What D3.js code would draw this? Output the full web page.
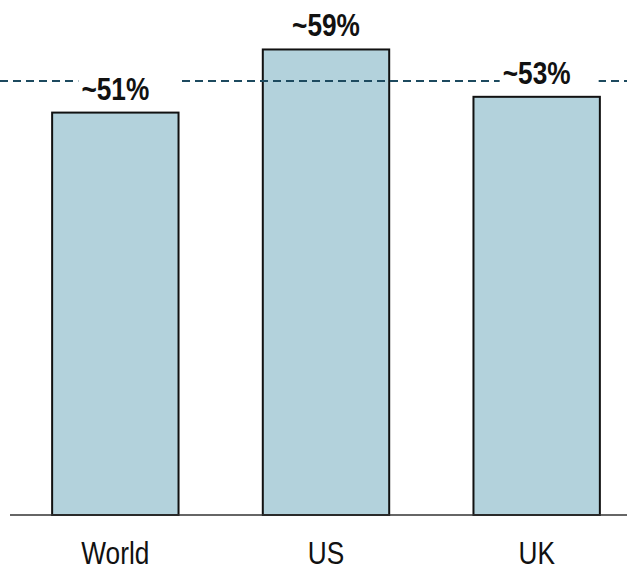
<!DOCTYPE html>
<html>
<head>
<meta charset="utf-8">
<script src="https://cdn.jsdelivr.net/npm/d3@7"></script>
<style>
  html, body { margin: 0; padding: 0; background: #fff; }
  svg { display: block; }
  text { font-family: "Liberation Sans", Arial, sans-serif; }
</style>
</head>
<body>
<script>
// Share of respondents by region
const categories = ["World", "US", "UK"];
const values = [51, 59, 53];
const valueLabels = ["~51%", "~59%", "~53%"];
const referenceValue = 55;

const width = 627, height = 571;
const baselineY = 515;

const svg = d3.select("body").append("svg")
  .attr("width", width)
  .attr("height", height);

const x = d3.scaleBand()
  .domain(categories)
  .range([10, 642])
  .paddingInner(0.4)
  .paddingOuter(0.2);

const y = d3.scaleLinear()
  .domain([0, 65.27])
  .range([baselineY, 0]);

// Narrow type: a regular face squeezed horizontally
const narrow = 0.82;

// Bars
svg.append("g")
  .selectAll("rect")
  .data(values)
  .join("rect")
  .attr("x", (d, i) => x(categories[i]))
  .attr("y", d => y(d))
  .attr("width", x.bandwidth())
  .attr("height", d => y(0) - y(d))
  .attr("fill", "#b3d2dc")
  .attr("stroke", "#111")
  .attr("stroke-width", 2);

// Baseline axis
const axis = svg.append("g")
  .attr("transform", `translate(0,${y(0)})`)
  .call(d3.axisBottom(x).tickSize(0).tickPadding(0));
axis.select(".domain")
  .attr("d", `M10,0H${width}`)
  .attr("stroke", "#333")
  .attr("stroke-width", 1.6);
axis.selectAll(".tick text").remove();

// Dashed reference line
svg.append("line")
  .attr("x1", 0)
  .attr("x2", width)
  .attr("y1", y(referenceValue))
  .attr("y2", y(referenceValue))
  .attr("stroke", "#1d4a5f")
  .attr("stroke-width", 2)
  .attr("stroke-dasharray", "8,5");

// Value labels, each on a white backing box that interrupts the line
const labels = svg.append("g")
  .selectAll("g")
  .data(values)
  .join("g")
  .attr("transform", (d, i) =>
    `translate(${x(categories[i]) + x.bandwidth() / 2},${y(d) - 13})`);

labels.append("rect")
  .attr("x", -37)
  .attr("y", -26)
  .attr("width", 99)
  .attr("height", 26)
  .attr("fill", "#fff");

labels.append("text")
  .attr("transform", `scale(${narrow},1)`)
  .attr("text-anchor", "middle")
  .attr("font-size", 32)
  .attr("font-weight", "bold")
  .attr("fill", "#111")
  .text((d, i) => valueLabels[i]);

// Category labels
svg.append("g")
  .selectAll("g")
  .data(categories)
  .join("g")
  .attr("transform", d => `translate(${x(d) + x.bandwidth() / 2},564)`)
  .append("text")
  .attr("transform", `scale(${narrow},1)`)
  .attr("text-anchor", "middle")
  .attr("font-size", 32)
  .attr("fill", "#111")
  .text(d => d);
</script>
</body>
</html>
